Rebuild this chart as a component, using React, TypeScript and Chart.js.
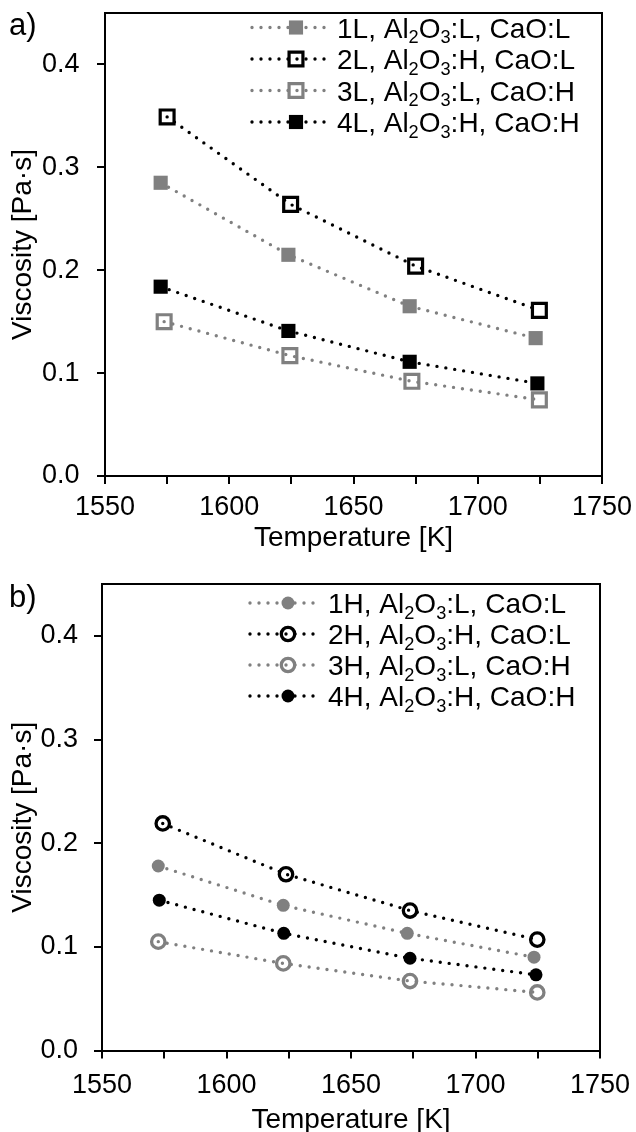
import React, { useEffect, useRef } from 'react';
import { Chart, registerables } from 'chart.js';

Chart.register(...registerables);

const FONT = '"Liberation Sans", Arial, Helvetica, sans-serif';
const BLACK = '#000000';
const GRAY = '#808080';

// ---------- Panel a) data ----------
const namesA = ['1L, Al₂O₃:L, CaO:L', '2L, Al₂O₃:H, CaO:L', '3L, Al₂O₃:L, CaO:H', '4L, Al₂O₃:H, CaO:H'];
const temp1L = [1572.4, 1623.8, 1672.6, 1723.3];
const visc1L = [0.285, 0.215, 0.165, 0.134];
const temp2L = [1575.0, 1624.7, 1675.0, 1724.8];
const visc2L = [0.349, 0.264, 0.204, 0.161];
const temp3L = [1573.8, 1624.4, 1673.5, 1724.8];
const visc3L = [0.150, 0.117, 0.092, 0.074];
const temp4L = [1572.4, 1623.8, 1672.6, 1724.0];
const visc4L = [0.184, 0.141, 0.111, 0.090];

// ---------- Panel b) data ----------
const namesB = ['1H, Al₂O₃:L, CaO:L', '2H, Al₂O₃:H, CaO:L', '3H, Al₂O₃:L, CaO:H', '4H, Al₂O₃:H, CaO:H'];
const temp1H = [1572.6, 1622.8, 1672.6, 1723.5];
const visc1H = [0.178, 0.140, 0.113, 0.090];
const temp2H = [1574.4, 1623.9, 1673.7, 1724.8];
const visc2H = [0.219, 0.170, 0.135, 0.107];
const temp3H = [1572.6, 1622.8, 1673.7, 1724.8];
const visc3H = [0.105, 0.084, 0.067, 0.056];
const temp4H = [1573.0, 1623.0, 1673.7, 1724.3];
const visc4H = [0.145, 0.113, 0.089, 0.073];

// ---------- Axes ----------
const xTickValues = [1550, 1575, 1600, 1625, 1650, 1675, 1700, 1725, 1750];
const xLabelValues = [1550, 1600, 1650, 1700, 1750];
const yTickValues = [0.0, 0.1, 0.2, 0.3, 0.4];
const xMin = 1550;
const xMax = 1750;
const yMin = 0;
const yMax = 0.45;
const xAxisTitle = 'Temperature [K]';
const yAxisTitle = 'Viscosity [Pa·s]';

// ---------- Styles ----------
const seriesColors = [GRAY, BLACK, GRAY, BLACK];
const seriesFilled = [true, false, false, true];

const W = 636;

type Layout = {
  H: number; top: number; axisY: number; left: number; right: number;
  tickCenterOff: number; titleCenter: number; yTitleCenter: number; yTickPad: number;
  panel: string; panelX: number; panelY: number; panelSize: number;
  legendY: number[]; lineX1: number; lineX2: number; markerX: number; textX: number;
};

const layoutA: Layout = {
  H: 566, top: 9, axisY: 476, left: 105, right: 602,
  tickCenterOff: 32, titleCenter: 538, yTitleCenter: 23, yTickPad: 17.5,
  panel: 'a)', panelX: 9, panelY: 34.5, panelSize: 31,
  legendY: [27.5, 59, 90.5, 122], lineX1: 252, lineX2: 327, markerX: 296, textX: 337,
};

const layoutB: Layout = {
  H: 566, top: 18, axisY: 484.5, left: 102, right: 600,
  tickCenterOff: 35, titleCenter: 554, yTitleCenter: 23, yTickPad: 16,
  panel: 'b)', panelX: 9, panelY: 40.5, panelSize: 31,
  legendY: [37, 68, 99, 130], lineX1: 250, lineX2: 318, markerX: 288, textX: 328,
};

const TICK_FONT = 27;
const TITLE_FONT = 28;
const LEGEND_FONT = 28;

function drawMarker(ctx: CanvasRenderingContext2D, shape: string, filled: boolean, color: string, x: number, y: number) {
  ctx.save();
  ctx.setLineDash([]);
  ctx.beginPath();
  if (shape === 'rect') {
    const s = filled ? 7.07 : 6.93;
    ctx.rect(x - s, y - s, 2 * s, 2 * s);
  } else {
    ctx.arc(x, y, filled ? 6.5 : 6.7, 0, Math.PI * 2);
  }
  if (filled) {
    ctx.fillStyle = color;
    ctx.fill();
  } else {
    ctx.lineWidth = shape === 'rect' ? 3.2 : 3.3;
    ctx.strokeStyle = color;
    ctx.stroke();
  }
  ctx.restore();
}

function drawRichText(ctx: CanvasRenderingContext2D, text: string, x: number, y: number, size: number) {
  const SUB: Record<string, string> = { '₂': '2', '₃': '3' };
  const baseline = y + 0.358 * size;
  ctx.textAlign = 'left';
  ctx.textBaseline = 'alphabetic';
  ctx.fillStyle = BLACK;
  let cx = x;
  let run = '';
  const flush = () => {
    if (!run) return;
    ctx.font = `${size}px ${FONT}`;
    ctx.fillText(run, cx, baseline);
    cx += ctx.measureText(run).width;
    run = '';
  };
  for (const ch of text) {
    if (SUB[ch]) {
      flush();
      const sub = SUB[ch];
      ctx.font = `${size * 0.65}px ${FONT}`;
      ctx.fillText(sub, cx, baseline + 0.21 * size);
      cx += ctx.measureText(sub).width;
    } else {
      run += ch;
    }
  }
  flush();
}

function makeDecorPlugin(L: Layout, shape: string) {
  return {
    id: 'decor',
    afterDraw(chart: any) {
      const ctx: CanvasRenderingContext2D = chart.ctx;
      const a = chart.chartArea;
      ctx.save();
      ctx.setLineDash([]);
      ctx.strokeStyle = BLACK;
      ctx.lineWidth = 2;
      ctx.lineCap = 'butt';
      ctx.beginPath();
      ctx.moveTo(a.left - 1, a.top);
      ctx.lineTo(a.right, a.top);
      ctx.lineTo(a.right, a.bottom + 1);
      ctx.stroke();

      ctx.fillStyle = BLACK;
      ctx.font = `${L.panelSize}px ${FONT}`;
      ctx.textAlign = 'left';
      ctx.textBaseline = 'alphabetic';
      ctx.fillText(L.panel, L.panelX, L.panelY);

      chart.data.datasets.forEach((ds: any, i: number) => {
        const y = L.legendY[i];
        ctx.save();
        ctx.strokeStyle = ds.borderColor;
        ctx.lineWidth = ds.borderWidth;
        ctx.lineCap = 'round';
        ctx.setLineDash(ds.borderDash);
        ctx.beginPath();
        ctx.moveTo(L.lineX1, y);
        ctx.lineTo(L.lineX2, y);
        ctx.stroke();
        ctx.restore();
        drawMarker(ctx, shape, seriesFilled[i], seriesColors[i], L.markerX, y);
        drawRichText(ctx, ds.label, L.textX, y, LEGEND_FONT);
      });
      ctx.restore();
    },
  };
}

function makeConfig(L: Layout, names: string[], temps: number[][], viscs: number[][], shape: string): any {
  const datasets = names.map((name, i) => {
    const filled = seriesFilled[i];
    const color = seriesColors[i];
    const isRect = shape === 'rect';
    return {
      label: name,
      data: temps[i].map((t, j) => ({ x: t, y: viscs[i][j] })),
      borderColor: color,
      borderWidth: 3.4,
      borderDash: [0, 9],
      borderCapStyle: 'round',
      tension: 0,
      fill: false,
      pointStyle: isRect ? 'rect' : 'circle',
      pointRadius: isRect ? (filled ? 10 : 9.8) : (filled ? 6.5 : 6.7),
      pointHoverRadius: isRect ? (filled ? 10 : 9.8) : (filled ? 6.5 : 6.7),
      pointBackgroundColor: filled ? color : 'rgba(0,0,0,0)',
      pointBorderColor: color,
      pointBorderWidth: filled ? 0 : (isRect ? 3.2 : 3.3),
    };
  });

  const tickLen = 8;
  const lhTick = TICK_FONT * 1.2;
  const lhTitle = TITLE_FONT * 1.2;

  return {
    type: 'line',
    data: { datasets },
    options: {
      responsive: false,
      animation: false,
      devicePixelRatio: 1,
      layout: { padding: { left: 0, right: W - L.right, top: L.top, bottom: 0 } },
      plugins: { legend: { display: false }, tooltip: { enabled: false } },
      scales: {
        x: {
          type: 'linear',
          min: xMin,
          max: xMax,
          afterBuildTicks: (s: any) => { s.ticks = xTickValues.map((v) => ({ value: v })); },
          afterFit: (s: any) => { s.height = L.H - L.axisY; s.paddingLeft = 0; s.paddingRight = 0; },
          ticks: {
            autoSkip: false,
            maxRotation: 0,
            minRotation: 0,
            color: BLACK,
            font: { family: FONT, size: TICK_FONT },
            padding: L.tickCenterOff - tickLen - lhTick / 2,
            callback: (v: any) => (xLabelValues.includes(Number(v)) ? String(v) : ''),
          },
          grid: { drawOnChartArea: false, drawTicks: true, tickLength: tickLen, color: BLACK, lineWidth: 2 },
          border: { display: true, color: BLACK, width: 2 },
          title: {
            display: true,
            text: xAxisTitle,
            color: BLACK,
            font: { family: FONT, size: TITLE_FONT },
            padding: { top: 0, bottom: L.H - L.titleCenter - lhTitle / 2 },
          },
        },
        y: {
          type: 'linear',
          min: yMin,
          max: yMax,
          afterBuildTicks: (s: any) => { s.ticks = yTickValues.map((v) => ({ value: v })); },
          afterFit: (s: any) => { s.width = L.left; s.paddingTop = 0; s.paddingBottom = 0; },
          ticks: {
            color: BLACK,
            font: { family: FONT, size: TICK_FONT },
            padding: L.yTickPad,
            callback: (v: any) => Number(v).toFixed(1),
          },
          grid: { drawOnChartArea: false, drawTicks: true, tickLength: tickLen, color: BLACK, lineWidth: 2 },
          border: { display: true, color: BLACK, width: 2 },
          title: {
            display: true,
            text: yAxisTitle,
            color: BLACK,
            font: { family: FONT, size: TITLE_FONT },
            padding: { top: L.yTitleCenter - lhTitle / 2, bottom: 0 },
          },
        },
      },
    },
    plugins: [makeDecorPlugin(L, shape)],
  };
}

function Panel({ L, names, temps, viscs, shape }: { L: Layout; names: string[]; temps: number[][]; viscs: number[][]; shape: string }) {
  const ref = useRef<HTMLCanvasElement>(null);
  useEffect(() => {
    if (!ref.current) return;
    const chart = new Chart(ref.current, makeConfig(L, names, temps, viscs, shape));
    return () => chart.destroy();
  }, []);
  return <canvas ref={ref} width={W} height={L.H} style={{ display: 'block', width: W, height: L.H }} />;
}

export default function App() {
  return (
    <div style={{ width: W, height: 1132, overflow: 'hidden', background: '#ffffff' }}>
      <style>{'body{margin:0;background:#fff;}'}</style>
      <Panel L={layoutA} names={namesA} temps={[temp1L, temp2L, temp3L, temp4L]} viscs={[visc1L, visc2L, visc3L, visc4L]} shape="rect" />
      <Panel L={layoutB} names={namesB} temps={[temp1H, temp2H, temp3H, temp4H]} viscs={[visc1H, visc2H, visc3H, visc4H]} shape="circle" />
    </div>
  );
}
